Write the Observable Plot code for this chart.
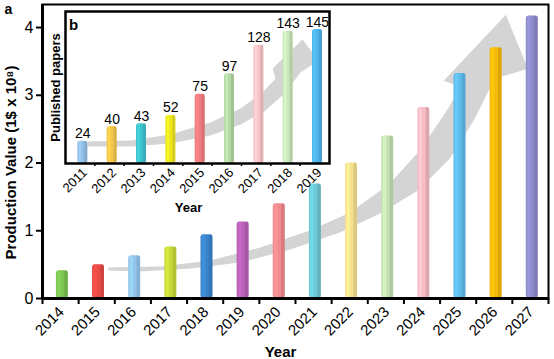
<!DOCTYPE html>
<html>
<head>
<meta charset="utf-8">
<script src="https://cdn.jsdelivr.net/npm/d3@7"></script>
<script src="https://cdn.jsdelivr.net/npm/@observablehq/plot@0.6"></script>
<style>
  body { margin: 0; background: white; }
  #wrap { position: relative; width: 554px; height: 359px; overflow: hidden; }
  #inset { position: absolute; left: 30px; top: 5px; }
</style>
</head>
<body>
<div id="wrap"><div id="main"></div><div id="inset"></div></div>
<script>
// ---- Main chart (a) data ----
const mainYears = [2014, 2015, 2016, 2017, 2018, 2019, 2020, 2021, 2022, 2023, 2024, 2025, 2026, 2027];
const productionValue = [0.41, 0.50, 0.63, 0.76, 0.94, 1.13, 1.40, 1.69, 2.00, 2.40, 2.82, 3.32, 3.70, 4.17];
const mainColors = ["#7cc453", "#e84a45", "#92c5ec", "#c5d83a", "#3b84cc", "#b860b8", "#f08a8e",
                    "#6dcad6", "#f6e08e", "#c5e2b2", "#f7bcc4", "#5fbbec", "#f5b90a", "#8f8bcb"];
const mainYTicks = [0, 1, 2, 3, 4];
// decorative trend arrow outline (year, value)
const mainArrowX = [2015.32, 2016.76, 2018.14, 2019.52, 2020.90, 2022.01, 2023.11, 2023.94, 2024.72, 2025.05,
                    2024.60, 2026.32, 2026.93, 2026.01, 2025.46, 2024.77, 2023.89, 2022.84, 2021.73, 2020.35,
                    2018.97, 2017.59, 2016.21, 2015.32];
const mainArrowY = [0.457, 0.472, 0.560, 0.752, 1.003, 1.268, 1.696, 2.183, 2.802, 3.127,
                    3.215, 4.189, 3.392, 3.245, 2.655, 2.065, 1.593, 1.254, 0.973, 0.723,
                    0.531, 0.442, 0.398, 0.413];

// ---- Inset chart (b) data ----
const insetYears = [2011, 2012, 2013, 2014, 2015, 2016, 2017, 2018, 2019];
const publishedPapers = [24, 40, 43, 52, 75, 97, 128, 143, 145];
const insetColors = ["#94bfe6", "#f4c64c", "#3fc2cc", "#ece51f", "#f07c80", "#b5d9a4", "#f9c3c6", "#c9e5bb", "#4fb3ec"];
const insetArrowX = [2011.25, 2012.72, 2014.08, 2015.44, 2016.47, 2017.22, 2017.66, 2017.56, 2018.58, 2019.13,
                     2018.51, 2018.00, 2017.32, 2016.47, 2015.44, 2014.08, 2012.72, 2011.25];
const insetArrowY = [23.8, 24.9, 31.4, 44.4, 59.5, 76.8, 92.0, 102.8, 134.2, 111.5,
                     98.5, 76.8, 57.4, 42.2, 30.3, 21.6, 18.4, 18.4];

const font = "'Liberation Sans', Arial, sans-serif";

function barMarks(data, off, hw) {
  return [
    Plot.rectY(data, {x1: d => d.year + off - hw, x2: d => d.year + off + hw, y1: 0, y2: "value",
                      fill: "color", rx: 3}),
    Plot.rectY(data, {x1: d => d.year + off - hw * 0.75, x2: d => d.year + off - hw * 0.2, y1: 0, y2: "value",
                      fill: d => d3.color(d.color).brighter(0.35).formatHex(), fillOpacity: 0.6, rx: 2}),
    Plot.rectY(data, {x1: d => d.year + off + hw * 0.4, x2: d => d.year + off + hw, y1: 0, y2: "value",
                      fill: d => d3.color(d.color).darker(0.6).formatHex(), fillOpacity: 0.55, rx: 2})
  ];
}

const mainData = mainYears.map((y, i) => ({year: y, value: productionValue[i], color: mainColors[i]}));
const mainArrow = mainArrowX.map((x, i) => ({x, y: mainArrowY[i]}));
const mainEdges = d3.range(mainYears.length + 1).map(i => mainYears[0] - 0.5 + i);

const main = Plot.plot({
  width: 554, height: 359,
  marginLeft: 42, marginRight: 6, marginTop: 4, marginBottom: 61,
  style: {fontFamily: font, background: "white", overflow: "visible", color: "black"},
  x: {domain: [2013.5, 2027.5], axis: null},
  y: {domain: [0, 4.34], axis: null},
  color: {type: "identity"},
  marks: [
    Plot.line(mainArrow, {x: "x", y: "y", fill: "#d4d4d4", stroke: "none", curve: "linear"}),
    ...barMarks(mainData, 0.05, 0.165),
    Plot.frame({stroke: "black", strokeWidth: 2}),
    Plot.ruleY([0], {stroke: "black", strokeWidth: 3}),
    Plot.ruleX([2013.5], {stroke: "black", strokeWidth: 3}),
    Plot.axisY(mainYTicks, {tickSize: 6, tickPadding: 3, fontSize: 16, strokeWidth: 2, label: null,
                            tickFormat: d => String(d)}),
    Plot.axisX(mainEdges, {tickSize: 6, strokeWidth: 2, tickFormat: () => "", label: null}),
    Plot.text(mainYears, {x: d => d + 0.05, y: 0, text: d => String(d), rotate: -45, textAnchor: "end",
                          lineAnchor: "middle", dy: 11, dx: -1, fontSize: 15}),
    Plot.text(["Year"], {frameAnchor: "bottom", lineAnchor: "middle", dy: 54, dx: -15, fontWeight: "bold", fontSize: 15}),
    Plot.text(["Production Value (1$ x 10⁸)"], {frameAnchor: "left", rotate: -90, lineAnchor: "middle",
                          textAnchor: "middle", dx: -31, dy: 11, fontWeight: "bold", fontSize: 15}),
    Plot.text(["a"], {frameAnchor: "top-left", lineAnchor: "middle", textAnchor: "middle", dx: -34, dy: 5,
                      fontWeight: "bold", fontSize: 14})
  ]
});
document.getElementById("main").appendChild(main);

const insetData = insetYears.map((y, i) => ({year: y, value: publishedPapers[i], color: insetColors[i]}));
const insetArrow = insetArrowX.map((x, i) => ({x, y: insetArrowY[i]}));
const insetEdges = d3.range(1, insetYears.length).map(i => insetYears[0] - 0.5 + i);

const inset = Plot.plot({
  width: 306, height: 210,
  marginLeft: 35, marginRight: 7, marginTop: 6, marginBottom: 52,
  style: {fontFamily: font, background: "transparent", overflow: "visible", color: "black"},
  x: {domain: [2010.5, 2019.5], axis: null},
  y: {domain: [0, 164.5], axis: null},
  color: {type: "identity"},
  marks: [
    Plot.frame({fill: "white", stroke: "none"}),
    Plot.line(insetArrow, {x: "x", y: "y", fill: "#d4d4d4", stroke: "none", curve: "linear"}),
    ...barMarks(insetData, 0.09, 0.17),
    Plot.text(insetData, {x: d => d.year + 0.09, y: "value", text: d => String(d.value), lineAnchor: "bottom",
                          dy: -3, fontSize: 14}),
    Plot.frame({stroke: "black", strokeWidth: 2.5}),
    Plot.axisX(insetEdges, {tickSize: 3, strokeWidth: 1.5, tickFormat: () => "", label: null}),
    Plot.text(insetYears, {x: d => d + 0.09, y: 0, text: d => String(d), rotate: -45, textAnchor: "end",
                           lineAnchor: "middle", dy: 7, dx: 2, fontSize: 13}),
    Plot.text(["Year"], {frameAnchor: "bottom", lineAnchor: "middle", textAnchor: "middle", dy: 44, dx: -9,
                         fontWeight: "bold", fontSize: 13}),
    Plot.text(["Published papers"], {frameAnchor: "left", rotate: -90, lineAnchor: "middle", textAnchor: "middle",
                                     dx: -10, fontWeight: "bold", fontSize: 13}),
    Plot.text(["b"], {frameAnchor: "top-left", lineAnchor: "middle", textAnchor: "middle", dx: 8, dy: 14,
                      fontWeight: "bold", fontSize: 15})
  ]
});
document.getElementById("inset").appendChild(inset);
</script>
</body>
</html>
